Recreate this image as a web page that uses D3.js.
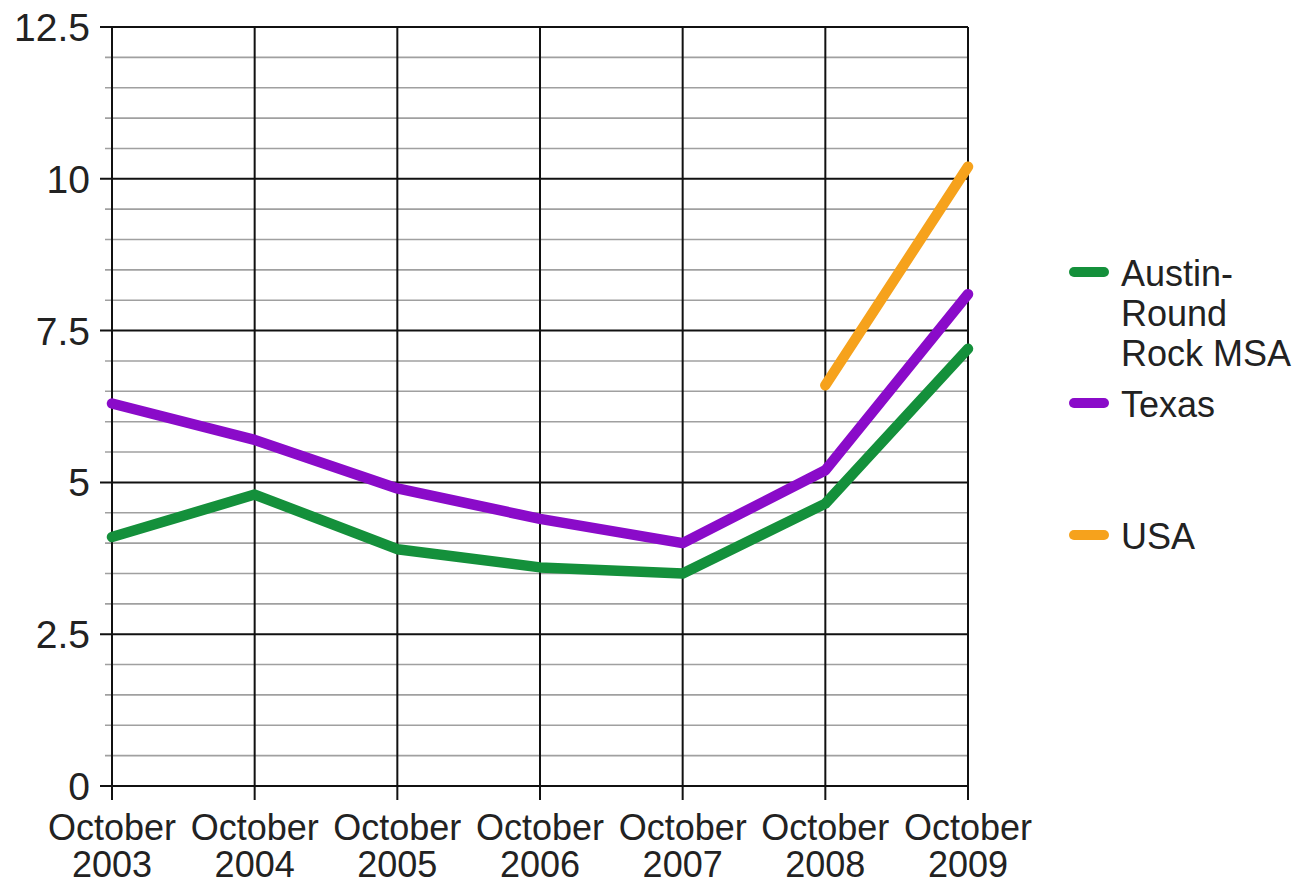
<!DOCTYPE html>
<html><head><meta charset="utf-8">
<script src="https://cdn.jsdelivr.net/npm/d3@7"></script>
<style>
html,body{margin:0;padding:0;background:#fff;}
svg{display:block;font-family:"Liberation Sans",Arial,sans-serif;}
</style></head>
<body>
<svg id="chart" width="1301" height="885"></svg>
<script>
const categories = ["October 2003","October 2004","October 2005","October 2006","October 2007","October 2008","October 2009"];
const austin = [4.1, 4.8, 3.9, 3.6, 3.5, 4.65, 7.2];
const texas  = [6.3, 5.7, 4.9, 4.4, 4.0, 5.2, 8.1];
const usa    = [null, null, null, null, null, 6.6, 10.2];
const yTicks = [0, 2.5, 5, 7.5, 10, 12.5];
const yTickLabels = ["0", "2.5", "5", "7.5", "10", "12.5"];
const seriesNames = ["Austin-Round Rock MSA", "Texas", "USA"];
const seriesColors = ["#14903b", "#8a0bc9", "#f6a21c"];

(function () {
const svg = d3.select("#chart");
const pLeft = 112, pRight = 968, pTop = 27, pBottom = 786;
const x = d3.scalePoint().domain(categories).range([pLeft, pRight]);
const y = d3.scaleLinear().domain([0, 12.5]).range([pBottom, pTop]);

// minor gridlines every 0.5
const minor = d3.range(0, 12.5001, 0.5).filter(v => Math.abs(v / 2.5 - Math.round(v / 2.5)) > 1e-6);
svg.append("g").selectAll("line").data(minor).join("line")
  .attr("x1", 105).attr("x2", pRight)
  .attr("y1", d => y(d)).attr("y2", d => y(d))
  .attr("stroke", "#a0a0a0").attr("stroke-width", 1.6);

// major gridlines
svg.append("g").selectAll("line").data(yTicks).join("line")
  .attr("x1", 100).attr("x2", pRight)
  .attr("y1", d => y(d)).attr("y2", d => y(d))
  .attr("stroke", "#111").attr("stroke-width", 2);

// vertical gridlines
svg.append("g").selectAll("line").data(categories).join("line")
  .attr("x1", d => x(d)).attr("x2", d => x(d))
  .attr("y1", pTop).attr("y2", pBottom + 14)
  .attr("stroke", "#111").attr("stroke-width", 2);

// y labels
svg.append("g").selectAll("text").data(yTicks).join("text")
  .attr("x", 90).attr("y", d => y(d))
  .attr("dy", "0.36em")
  .attr("text-anchor", "end")
  .attr("font-size", 39).attr("fill", "#222")
  .text((d, i) => yTickLabels[i]);

// x labels
const xl = svg.append("g").selectAll("text").data(categories).join("text")
  .attr("x", d => x(d)).attr("y", 840)
  .attr("text-anchor", "middle")
  .attr("font-size", 36).attr("fill", "#222");
xl.append("tspan").attr("x", d => x(d)).attr("y", 840).text(d => d.split(" ")[0]);
xl.append("tspan").attr("x", d => x(d)).attr("y", 877).text(d => d.split(" ")[1]);

// lines
const line = d3.line()
  .defined(d => d.v !== null)
  .x(d => x(d.c)).y(d => y(d.v));
const allSeries = [austin, texas, usa];
[2, 1, 0].forEach(i => {
  const data = categories.map((c, j) => ({c, v: allSeries[i][j]}));
  svg.append("path").datum(data)
    .attr("d", line)
    .attr("fill", "none")
    .attr("stroke", seriesColors[i])
    .attr("stroke-width", 10.5)
    .attr("stroke-linejoin", "round")
    .attr("stroke-linecap", "round");
});

// legend
const legendY = [272, 403, 535];
const legendLines = [["Austin-", "Round", "Rock MSA"], ["Texas"], ["USA"]];
const lg = svg.append("g");
seriesNames.forEach((n, i) => {
  lg.append("line")
    .attr("x1", 1074).attr("x2", 1104)
    .attr("y1", legendY[i]).attr("y2", legendY[i])
    .attr("stroke", seriesColors[i]).attr("stroke-width", 10)
    .attr("stroke-linecap", "round");
  const t = lg.append("text").attr("font-size", 36).attr("fill", "#222");
  legendLines[i].forEach((s, k) => {
    t.append("tspan").attr("x", 1121).attr("y", legendY[i] + 14 + k * 40).text(s);
  });
});
})();
</script>
</body></html>
